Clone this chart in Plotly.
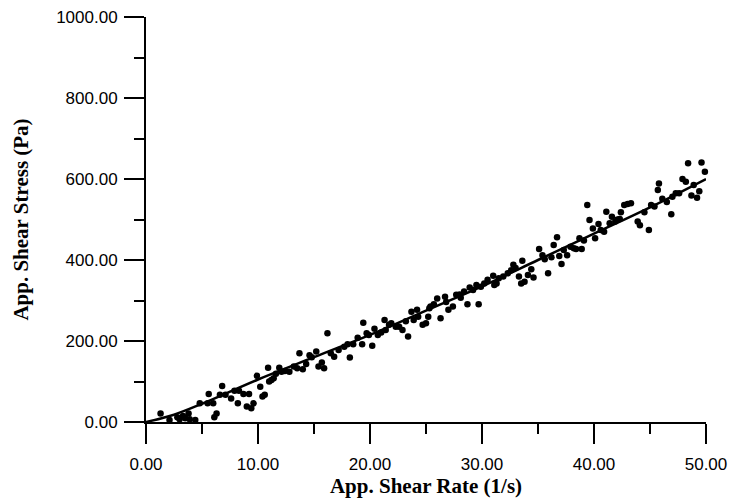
import plotly.graph_objects as go

# Measured points (App. Shear Rate [1/s], App. Shear Stress [Pa])
rate = [
    1.3, 2.1, 2.8, 3.0, 3.3, 3.5, 3.8, 3.9, 4.4, 4.8, 5.5, 5.6, 6.0, 6.1, 6.3, 6.6, 6.8, 7.1,
    7.6, 7.9, 8.2, 8.3, 8.7, 9.0, 9.2, 9.4, 9.6, 9.9, 10.2, 10.4, 10.6, 10.9, 11.0, 11.2, 11.4,
    11.6, 11.9, 12.1, 12.4, 12.8, 13.2, 13.5, 13.7, 14.0, 14.3, 14.6, 14.8, 15.2, 15.4, 15.7,
    15.9, 16.2, 16.5, 16.8, 17.2, 17.7, 18.0, 18.2, 18.5, 18.9, 19.3, 19.4, 19.7, 19.9, 20.2,
    20.4, 20.7, 21.0, 21.3, 21.4, 21.7, 21.9, 22.3, 22.6, 22.9, 23.2, 23.4, 23.7, 23.9, 24.2,
    24.3, 24.7, 25.0, 25.2, 25.3, 25.4, 25.7, 26.0, 26.3, 26.7, 26.8, 27.0, 27.4, 27.7, 28.0,
    28.1, 28.4, 28.7, 28.9, 29.2, 29.5, 29.7, 29.9, 30.2, 30.5, 31.0, 31.1, 31.3, 31.5, 31.9,
    32.3, 32.6, 32.8, 33.0, 33.3, 33.5, 33.6, 33.8, 34.1, 34.4, 34.6, 35.1, 35.4, 35.6, 35.9,
    36.2, 36.4, 36.7, 36.9, 37.1, 37.3, 37.6, 37.9, 38.2, 38.4, 38.7, 38.9, 39.1, 39.4, 39.6,
    39.9, 40.1, 40.4, 40.6, 40.9, 41.1, 41.4, 41.6, 41.9, 42.1, 42.3, 42.4, 42.7, 43.0, 43.3,
    43.9, 44.1, 44.5, 44.9, 45.1, 45.4, 45.7, 45.8, 46.1, 46.5, 46.9, 47.0, 47.3, 47.6, 47.9,
    48.2, 48.4, 48.7, 48.9, 49.2, 49.4, 49.6, 49.9,
]
stress = [
    21, 5, 12, 7, 15, 9, 21, 7, 5, 46, 46, 69, 46, 12, 21, 67, 89, 67,
    58, 77, 46, 77, 69, 38, 69, 34, 46, 114, 87, 63, 67, 134, 100, 104, 108,
    119, 134, 124, 126, 124, 137, 133, 170, 130, 143, 165, 160, 174, 137, 147,
    133, 219, 170, 161, 178, 186, 192, 159, 192, 208, 192, 245, 219, 215, 188,
    230, 215, 221, 252, 227, 240, 244, 235, 235, 227, 249, 211, 272, 252, 277,
    260, 240, 244, 260, 281, 285, 291, 305, 256, 309, 296, 277, 285, 314, 315,
    307, 322, 291, 332, 326, 338, 291, 334, 342, 351, 361, 338, 342, 355, 359,
    367, 375, 388, 380, 359, 342, 398, 346, 363, 377, 357, 427, 412, 402, 367,
    407, 437, 456, 410, 390, 425, 412, 433, 429, 427, 454, 427, 448, 536, 499,
    478, 454, 489, 474, 470, 519, 491, 507, 495, 500, 501, 518, 536, 538, 540,
    495, 486, 518, 474, 536, 532, 573, 589, 551, 543, 513, 556, 565, 565, 600,
    593, 639, 559, 585, 554, 570, 641, 618,
]

# Fitted curve
fit_rate = [0, 2.5, 5, 10, 15, 20, 25, 30, 35, 40, 45, 50]
fit_stress = [0, 18, 45, 105, 160, 215, 275, 335, 400, 465, 530, 600]

x_title = "App. Shear Rate (1/s)"
y_title = "App. Shear Stress (Pa)"

fig = go.Figure()
fig.add_trace(go.Scatter(
    x=fit_rate, y=fit_stress, mode="lines",
    line=dict(color="black", width=2.5, shape="spline"),
    showlegend=False, hoverinfo="skip",
))
fig.add_trace(go.Scatter(
    x=rate, y=stress, mode="markers",
    marker=dict(color="black", size=6.5),
    showlegend=False, cliponaxis=False,
))

tick_font = dict(family="Liberation Sans, Arial", size=17, color="black")
title_font = dict(family="Liberation Serif, Times New Roman", size=21, color="black")

fig.update_layout(
    width=732, height=500,
    margin=dict(l=146, r=26, t=17, b=78),
    paper_bgcolor="white", plot_bgcolor="white",
    xaxis=dict(
        range=[0, 50], dtick=10, tick0=0, tickformat=".2f",
        showgrid=False, zeroline=False, automargin=False,
        showline=True, linecolor="black", linewidth=2,
        ticks="outside", ticklen=20, tickwidth=2, tickcolor="black",
        minor=dict(dtick=5, ticks="outside", ticklen=10, tickwidth=2, tickcolor="black"),
        tickfont=tick_font, ticklabelstandoff=6,
        title=dict(text="<b>" + x_title + "</b>", font=title_font, standoff=0),
    ),
    yaxis=dict(
        range=[0, 1000], dtick=200, tick0=0, tickformat=".2f",
        showgrid=False, zeroline=False, automargin=False,
        showline=True, linecolor="black", linewidth=2,
        ticks="outside", ticklen=20, tickwidth=2, tickcolor="black",
        minor=dict(dtick=100, ticks="outside", ticklen=10, tickwidth=2, tickcolor="black"),
        tickfont=tick_font, ticklabelstandoff=3,
        title=dict(text="<b>" + y_title + "</b>", font=title_font, standoff=22),
    ),
)

fig.write_html("out.html")
